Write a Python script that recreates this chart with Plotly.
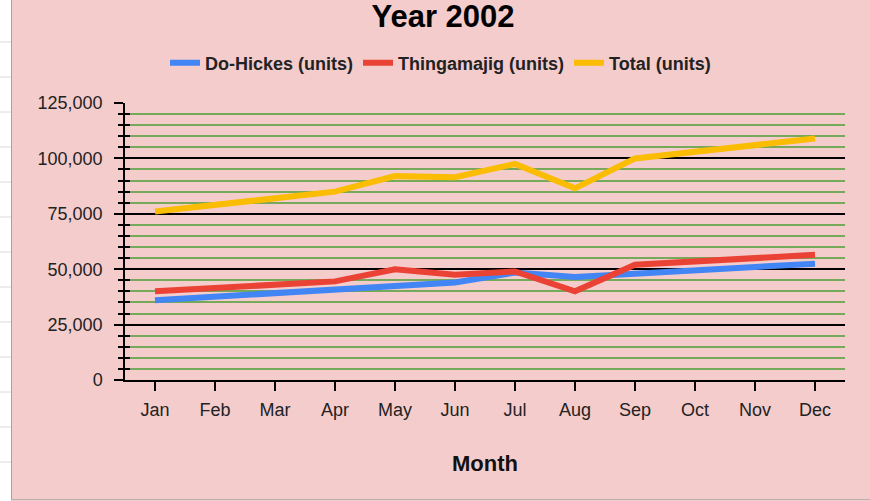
import plotly.graph_objects as go

months = ["Jan", "Feb", "Mar", "Apr", "May", "Jun", "Jul", "Aug", "Sep", "Oct", "Nov", "Dec"]
do_hickes = [36000, 37500, 39000, 40500, 42000, 44000, 48500, 46500, 48000, 49500, 51000, 52500]
thingamajig = [40000, 41500, 43000, 44500, 50000, 47500, 49000, 40000, 52000, 53500, 55000, 56500]
total = [76000, 79000, 82000, 85000, 92000, 91500, 97500, 86500, 100000, 103000, 106000, 109000]

W, H = 870, 501
L, R, T, B = 125, 25, 103, 121
PW, PH = W - L - R, H - T - B

def px(p):
    return (p - L) / PW

def py(p):
    return (H - B - p) / PH

PINK = "#f4cccc"
GREEN = "#76aa5a"
FONT = "Liberation Sans, Arial, sans-serif"

fig = go.Figure()
for name, vals, col in [("Do-Hickes (units)", do_hickes, "#4285f4"),
                        ("Thingamajig (units)", thingamajig, "#ea4335"),
                        ("Total (units)", total, "#fbbc04")]:
    fig.add_trace(go.Scatter(x=months, y=vals, name=name, mode="lines",
                             line=dict(color=col, width=6)))
# helper trace so the overlaid tick axis is drawn
fig.add_trace(go.Scatter(x=months[:1], y=[0], yaxis="y2", mode="lines",
                         line=dict(width=0), showlegend=False, hoverinfo="skip"))

shapes = []
# spreadsheet strip at left
shapes.append(dict(type="rect", xref="paper", yref="paper", x0=px(0), x1=px(11),
                   y0=py(0), y1=py(H), fillcolor="white", line=dict(width=0), layer="below"))
for k in range(13):
    yy = 42 + 35 * k
    shapes.append(dict(type="line", xref="paper", yref="paper", x0=px(0), x1=px(11),
                       y0=py(yy), y1=py(yy), line=dict(color="#dadada", width=1)))
shapes.append(dict(type="line", xref="paper", yref="paper", x0=px(11.5), x1=px(11.5),
                   y0=py(0), y1=py(499), line=dict(color="#a8a0a0", width=1)))
shapes.append(dict(type="line", xref="paper", yref="paper", x0=px(11), x1=px(W),
                   y0=py(499.5), y1=py(499.5), line=dict(color="#b8b0b0", width=1)))

fig.update_layout(
    width=W, height=H,
    margin=dict(l=L, r=R, t=T, b=B),
    paper_bgcolor=PINK, plot_bgcolor=PINK,
    font=dict(family=FONT, color="#222222", size=18),
    title=dict(text="<b>Year 2002</b>", x=px(443), xref="paper", xanchor="center",
               y=1 - 16 / H, yref="container", yanchor="middle",
               font=dict(size=31, color="#000000", family=FONT)),
    legend=dict(orientation="h", x=px(440.5), xanchor="center", y=py(63), yanchor="middle",
                font=dict(size=18, family=FONT, color="#222222", weight="bold"),
                bgcolor="rgba(0,0,0,0)", itemwidth=30),
    showlegend=True,
    shapes=shapes,
    xaxis=dict(type="category", range=[-0.5, 11.5], showgrid=False,
               showline=True, linecolor="#000000", linewidth=1.5,
               ticks="outside", ticklen=9, tickcolor="#000000", tickwidth=1.5,
               ticklabelstandoff=4,
               tickfont=dict(size=18, color="#222222"),
               title=dict(text="<b>Month</b>", standoff=36,
                          font=dict(size=22, color="#111111"))),
    yaxis=dict(range=[0, 125000], dtick=25000, tick0=0, tickformat=",",
               showgrid=True, gridcolor="#000000", gridwidth=1.5,
               zeroline=False, showline=True, linecolor="#000000", linewidth=1.5,
               ticks="outside", ticklen=9, tickcolor="#000000", tickwidth=1.5,
               ticklabelstandoff=8,
               tickfont=dict(size=18, color="#222222"),
               minor=dict(dtick=5000, tick0=0, showgrid=True, gridcolor=GREEN, gridwidth=1.5,
                          ticks="outside", ticklen=5, tickcolor="#000000", tickwidth=1.5)),
    yaxis2=dict(range=[0, 125000], overlaying="y", side="left", anchor="x",
                dtick=25000, tick0=0, showgrid=False, zeroline=False, showline=False,
                showticklabels=False, ticks="inside", ticklen=8, tickcolor="#000000",
                tickwidth=1.5,
                minor=dict(dtick=5000, tick0=0, showgrid=False, ticks="inside",
                           ticklen=5, tickcolor="#000000", tickwidth=1.5)),
)

fig.write_html("out.html", config={"displayModeBar": False},
               post_script="document.body.style.margin='0';document.body.style.overflow='hidden';")
